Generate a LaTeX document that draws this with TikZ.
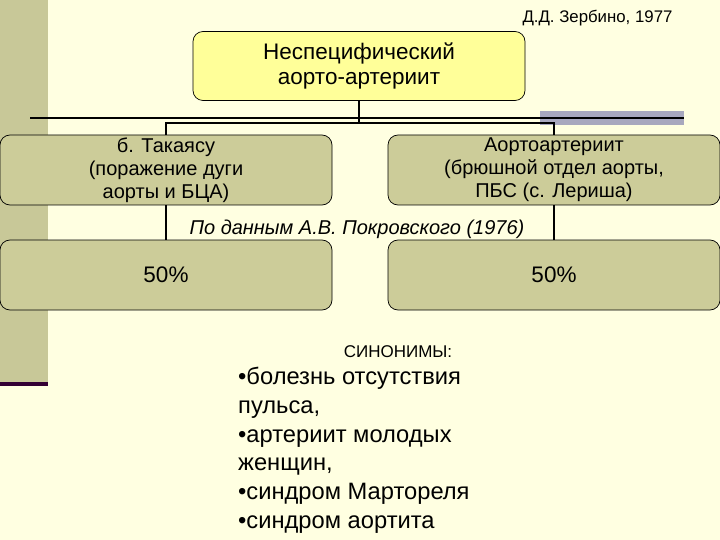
\documentclass[tikz,border=0pt]{standalone}
\usepackage{fontspec}
\setmainfont{Liberation Sans}
\usepackage{tikz}
\usetikzlibrary{positioning,calc}

\definecolor{bgcream}{RGB}{255,255,225}
\definecolor{khaki}{RGB}{204,204,153}
\definecolor{barkhaki}{RGB}{200,200,152}
\definecolor{paleyellow}{RGB}{255,255,153}
\definecolor{darkplum}{RGB}{51,0,51}
\definecolor{greyband}{RGB}{168,168,190}

\tikzset{
  box/.style={draw=black,line width=0.7pt,rounded corners=10pt,fill=khaki,
    minimum width=332pt,minimum height=70pt,align=center,inner sep=0pt,
    font=\fontsize{20}{23}\selectfont},
  topbox/.style={box,fill=paleyellow,minimum height=69pt,
    font=\fontsize{22.5}{25.5}\selectfont},
  link/.style={draw=black,line width=1.5pt}
}

\begin{document}
\begin{tikzpicture}[x=1pt,y=-1pt]
    \useasboundingbox (0,0) rectangle (720,540);
    \fill[bgcream] (0,0) rectangle (720,540);
    % left band
    \fill[barkhaki] (0,0) rectangle (48,382);
    \fill[darkplum] (0,382) rectangle (48,386);
    % rule across the slide
    \fill[greyband] (540,111) rectangle (684,125);
    \draw[line width=1.6pt,black] (30,118) -- (684,118);

    \node[anchor=east,font=\fontsize{16.8}{19}\selectfont] (src) at (676,18) {Д.Д. Зербино, 1977};

    \node[topbox] (top) at (359,66) {Неспецифический\\аорто-артериит};
    \node[box] (lmid) at (166,170) {б. Такаясу\\(поражение дуги\\аорты и БЦА)};
    \node[box] (rmid) at (554,170) {Аортоартериит\\(брюшной отдел аорты,\\ПБС (с. Лериша)};
    \node[box] (lbot) at (166,275) {\fontsize{22.5}{25}\selectfont 50\%};
    \node[box] (rbot) at (554,275) {\fontsize{22.5}{25}\selectfont 50\%};

    \coordinate (bus) at (359,123);
    \draw[link] (top.south) -- (bus);
    \draw[link] (lmid.north) -- (lmid.north |- bus) -- (rmid.north |- bus) -- (rmid.north);
    \draw[link] (lmid.south) -- (lbot.north);
    \draw[link] (rmid.south) -- (rbot.north);

    \node[font=\fontsize{20}{22}\selectfont\itshape] (data) at (357,229) {По данным А.В. Покровского (1976)};

    \node[font=\fontsize{17}{19}\selectfont] (syn) at (398,352) {СИНОНИМЫ:};
    \node[anchor=north west,align=left,inner sep=0pt,
      font=\fontsize{23.7}{28.8}\selectfont] (list) at (238,367)
      {•болезнь отсутствия\\пульса,\\•артериит молодых\\женщин,\\•синдром Мартореля\\•синдром аортита};
\end{tikzpicture}
\end{document}
